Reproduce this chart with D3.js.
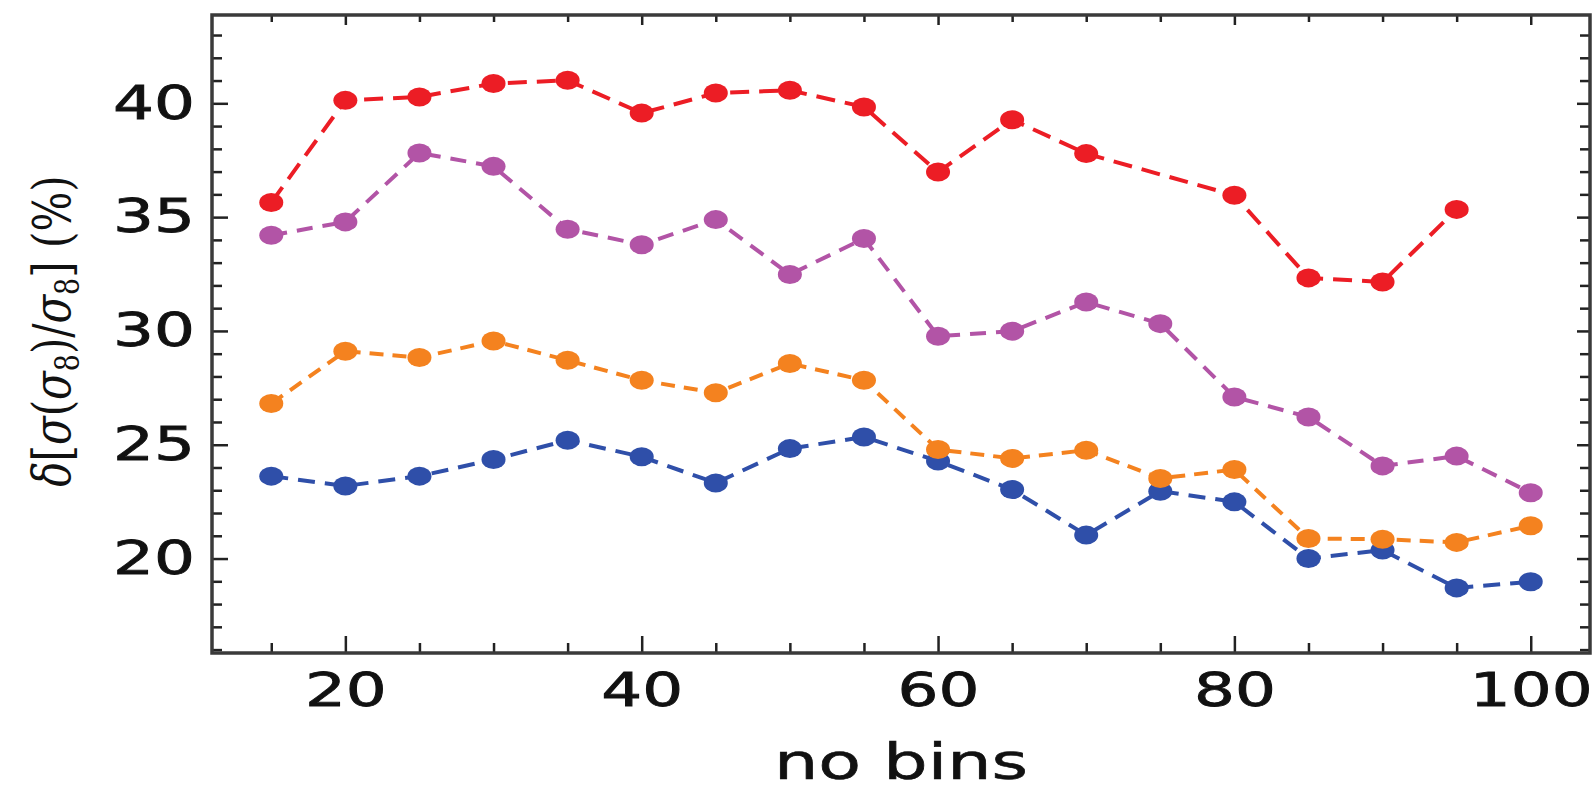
<!DOCTYPE html>
<html>
<head>
<meta charset="utf-8">
<script src="https://cdn.jsdelivr.net/npm/d3@7"></script>
<style>
  body { margin: 0; background: #fff; }
  svg { display: block; }
</style>
</head>
<body>
<div id="chart"></div>
<script>
const width = 1595
const height = 792
const margin = { top: 15, bottom: 139, left: 212, right: 5 }

// datos
const bins = [15, 20, 25, 30, 35, 40, 45, 50, 55, 60, 65, 70, 75, 80, 85, 90, 95, 100]
const red = [35.64, 40.13, 40.28, 40.87, 41.01, 39.57, 40.45, 40.57, 39.84, 36.98, 39.28, 37.79, null, 35.96, 32.33, 32.15, 35.34, null]
const purple = [34.20, 34.79, 37.82, 37.23, 34.47, 33.79, 34.89, 32.48, 34.06, 29.77, 29.99, 31.27, 30.32, 27.10, 26.22, 24.07, 24.50, 22.89]
const orange = [26.81, 29.11, 28.83, 29.56, 28.71, 27.83, 27.28, 28.57, 27.83, 24.79, 24.40, 24.76, 23.52, 23.91, 20.88, 20.85, 20.71, 21.44]
const blue = [23.62, 23.19, 23.62, 24.35, 25.20, 24.47, 23.32, 24.83, 25.34, 24.28, 23.03, 21.03, 22.96, 22.49, 20.00, 20.37, 18.71, 18.98]

const xMajor = [20, 40, 60, 80, 100]
const xMinor = [15, 25, 30, 35, 45, 50, 55, 65, 70, 75, 85, 90, 95]
const yMajor = [20, 25, 30, 35, 40]
const yMinor = d3.range(16, 44).filter(v => v % 5 !== 0)

const series = [
  { name: "blue", values: blue, color: "#2f4fa9", dash: "17,10" },
  { name: "orange", values: orange, color: "#f4821f", dash: "14,9" },
  { name: "purple", values: purple, color: "#b254a6", dash: "16,10" },
  { name: "red", values: red, color: "#ec1d25", dash: "19,10" },
]

const stretch = 1.4
const innerW = width - margin.left - margin.right
const innerH = height - margin.top - margin.bottom

const svg = d3.select("#chart")
  .append("svg")
  .attr("width", width)
  .attr("height", height)

const g = svg.append("g")
  .attr("transform", `translate(${margin.left}, ${margin.top})`)

// Escalas
const x = d3.scaleLinear().domain([11, 104]).range([0, innerW])
const y = d3.scaleLinear().domain([15.85, 43.88]).range([innerH, 0])

// Ejes (ticks hacia dentro)
const tickFont = "DejaVu Sans, Verdana, sans-serif"

const xAxisG = g.append("g").attr("transform", `translate(0, ${innerH})`)
xAxisG.call(d3.axisBottom(x).tickValues(xMajor).tickSize(-17).tickPadding(20).tickFormat(d3.format("d")))
xAxisG.append("g").call(d3.axisBottom(x).tickValues(xMinor).tickSize(-10).tickFormat(""))

const yAxisG = g.append("g")
yAxisG.call(d3.axisLeft(y).tickValues(yMajor).tickSize(-16).tickPadding(17).tickFormat(d3.format("d")))
yAxisG.append("g").call(d3.axisLeft(y).tickValues(yMinor).tickSize(-10).tickFormat(""))

// ejes espejo arriba y derecha
const topG = g.append("g")
topG.call(d3.axisTop(x).tickValues(xMajor).tickSize(-10).tickFormat(""))
topG.append("g").call(d3.axisTop(x).tickValues(xMinor).tickSize(-7).tickFormat(""))

const rightG = g.append("g").attr("transform", `translate(${innerW}, 0)`)
rightG.call(d3.axisRight(y).tickValues(yMajor).tickSize(-13).tickFormat(""))
rightG.append("g").call(d3.axisRight(y).tickValues(yMinor).tickSize(-10).tickFormat(""))

g.selectAll(".domain").remove()
g.selectAll(".tick line").attr("stroke", "#222").attr("stroke-width", 2.5)

xAxisG.selectAll("text")
  .attr("font-family", tickFont).attr("font-size", 46).attr("fill", "#111")
  .attr("stroke", "#111").attr("stroke-width", 0.8)
  .attr("transform", `scale(${stretch},1)`)
yAxisG.selectAll("text")
  .attr("font-family", tickFont).attr("font-size", 46).attr("fill", "#111")
  .attr("stroke", "#111").attr("stroke-width", 0.8)
  .attr("x", 0)
  .attr("transform", `translate(-17,0) scale(${stretch},1)`)

// marco
g.append("rect")
  .attr("width", innerW).attr("height", innerH)
  .attr("fill", "none").attr("stroke", "#3a3a3a").attr("stroke-width", 3.5)

// lineas y puntos
const line = d3.line().x(d => x(d.bin)).y(d => y(d.v))

series.forEach(s => {
  const pts = bins.map((b, i) => ({ bin: b, v: s.values[i] })).filter(d => d.v !== null)
  g.append("path").datum(pts)
    .attr("d", line)
    .attr("fill", "none")
    .attr("stroke", s.color)
    .attr("stroke-width", 4)
    .attr("stroke-dasharray", s.dash)
  g.selectAll(".pt-" + s.name).data(pts)
    .enter()
    .append("ellipse")
      .attr("class", "pt-" + s.name)
      .attr("cx", d => x(d.bin))
      .attr("cy", d => y(d.v))
      .attr("rx", 12)
      .attr("ry", 9.5)
      .attr("fill", s.color)
})

// etiquetas de ejes
svg.append("text")
  .attr("transform", `translate(${margin.left + innerW / 2}, 779) scale(${stretch},1)`)
  .attr("text-anchor", "middle")
  .attr("font-family", tickFont).attr("font-size", 50).attr("fill", "#111")
  .attr("stroke", "#111").attr("stroke-width", 0.6)
  .text("no bins")

const yl = svg.append("text")
  .attr("transform", `translate(70, 331) scale(1.25,1) rotate(-90)`)
  .attr("text-anchor", "middle")
  .attr("font-family", "DejaVu Serif, serif").attr("font-size", 42).attr("fill", "#111")
yl.append("tspan").attr("font-style", "italic").text("δ")
yl.append("tspan").text("[")
yl.append("tspan").attr("font-style", "italic").text("σ")
yl.append("tspan").text("(")
yl.append("tspan").attr("font-style", "italic").text("σ")
yl.append("tspan").attr("font-size", 27).attr("dy", 7).text("8")
yl.append("tspan").attr("dy", -7).text(")/")
yl.append("tspan").attr("font-style", "italic").text("σ")
yl.append("tspan").attr("font-size", 27).attr("dy", 7).text("8")
yl.append("tspan").attr("dy", -7).text("] (%)")
</script>
</body>
</html>
